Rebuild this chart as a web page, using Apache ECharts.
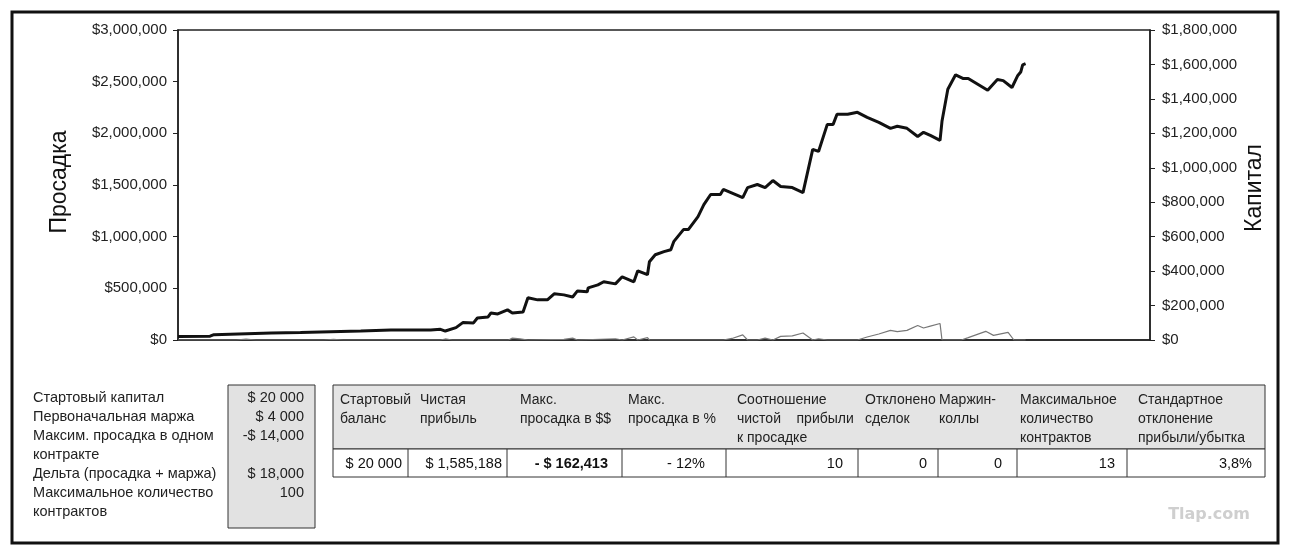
<!DOCTYPE html>
<html>
<head>
<meta charset="utf-8">
<script src="https://cdn.jsdelivr.net/npm/echarts@6/dist/echarts.min.js"></script>
<style>
html, body { margin: 0; padding: 0; background: #fff; }
#main { width: 1290px; height: 560px; }
</style>
</head>
<body>
<div id="main"></div>
<script>
// капитал (правая ось), номер сделки / тыс. $
var capitalTrade = [0,33,37,96,126,157,188,219,260,270,275,286,293,304,308,319,322,329,339,344,355,360,370,380,387,397,406,411,421,422,432,438,450,457,469,473,483,485,491,500,507,510,520,525,535,541,548,558,561,581,586,596,604,612,620,632,643,653,659,668,674,678,689,699,709,721,733,740,750,761,767,774,784,786,792,800,808,813,833,843,849,858,864,867,869,872];
var capitalK = [20,22,31,41,43,48,52,58,58,62,52,72,101,99,128,134,157,151,175,157,163,245,233,233,268,262,250,285,280,303,320,338,326,367,338,402,379,454,495,513,524,571,641,641,716,786,845,845,874,827,885,903,885,926,891,885,856,1107,1095,1252,1252,1311,1311,1322,1293,1264,1229,1241,1229,1182,1206,1188,1159,1270,1456,1540,1518,1518,1450,1512,1506,1466,1536,1556,1598,1605];

// просадка (левая ось), тыс. $
var drawdownTrade = [0,60,70,80,150,160,170,270,275,282,340,344,352,360,397,406,411,450,457,469,473,483,485,561,570,581,586,596,604,612,620,632,643,653,659,668,699,709,721,733,740,750,761,767,774,784,786,806,813,831,839,854,860,872];
var drawdownK = [0,0,8,0,0,6,0,0,10,0,0,18,10,0,6,18,0,12,0,30,0,23,0,0,15,50,0,0,18,0,35,40,68,0,12,0,0,29,58,93,81,93,140,116,134,160,0,0,23,84,45,74,0,0];

var leftLabels = ['Стартовый капитал', 'Первоначальная маржа', 'Максим. просадка в одном', 'контракте', 'Дельта (просадка + маржа)', 'Максимальное количество', 'контрактов'];
var leftValues = ['$ 20 000', '$ 4 000', '-$ 14,000', '', '$ 18,000', '100', ''];

var headers = ['Стартовый\nбаланс', 'Чистая\nприбыль', 'Макс.\nпросадка в $$', 'Макс.\nпросадка в %', 'Соотношение\nчистой    прибыли\nк просадке', 'Отклонено\nсделок', 'Маржин-\nколлы', 'Максимальное\nколичество\nконтрактов', 'Стандартное\nотклонение\nприбыли/убытка'];
var rowValues = ['$ 20 000', '$ 1,585,188', '- $ 162,413', '- 12%', '10', '0', '0', '13', '3,8%'];

var FONT = "'Liberation Sans', Arial, sans-serif";
var headerX = [340, 420, 520, 628, 737, 865, 939, 1020, 1138];
var valueRight = [402, 502, 608, 705, 843, 927, 1002, 1115, 1252];
var cellEdges = [408, 507, 622, 726, 858, 938, 1017, 1127];

function money(v) {
	return '$' + v.toLocaleString('en-US');
}

function buildGraphics() {
	var g = [];
	// рамка всей картинки
	g.push({ type: 'rect', shape: { x: 12, y: 12, width: 1266, height: 531 }, style: { fill: null, stroke: '#111', lineWidth: 3 } });
	// названия осей
	g.push({ type: 'text', x: 60, y: 182, rotation: Math.PI / 2,
		style: { text: 'Просадка', font: "23px 'Liberation Sans', Arial", fill: '#111', align: 'center', verticalAlign: 'middle' } });
	g.push({ type: 'text', x: 1255, y: 188, rotation: Math.PI / 2,
		style: { text: 'Капитал', font: "23px 'Liberation Sans', Arial", fill: '#111', align: 'center', verticalAlign: 'middle' } });

	// левая таблица
	g.push({ type: 'rect', shape: { x: 228, y: 385, width: 87, height: 143 }, style: { fill: '#e2e2e2', stroke: '#333', lineWidth: 1 } });
	for (var i = 0; i < leftLabels.length; i++) {
		var y = 398 + i * 19;
		g.push({ type: 'text', x: 33, y: y, style: { text: leftLabels[i], font: '14.5px ' + FONT, fill: '#222', verticalAlign: 'middle' } });
		if (leftValues[i]) {
			g.push({ type: 'text', x: 304, y: y, style: { text: leftValues[i], font: '14.5px ' + FONT, fill: '#222', align: 'right', verticalAlign: 'middle' } });
		}
	}

	// правая таблица
	g.push({ type: 'rect', shape: { x: 333, y: 385, width: 932, height: 64 }, style: { fill: '#e4e4e4', stroke: '#333', lineWidth: 1 } });
	g.push({ type: 'rect', shape: { x: 333, y: 449, width: 932, height: 28 }, style: { fill: '#fff', stroke: '#333', lineWidth: 1 } });
	for (var k = 0; k < cellEdges.length; k++) {
		g.push({ type: 'line', shape: { x1: cellEdges[k], y1: 449, x2: cellEdges[k], y2: 477 }, style: { stroke: '#333', lineWidth: 1 } });
	}
	for (var j = 0; j < headers.length; j++) {
		g.push({ type: 'text', x: headerX[j], y: 391, style: { text: headers[j], font: '14px ' + FONT, fill: '#222', lineHeight: 19 } });
		g.push({ type: 'text', x: valueRight[j], y: 464, style: { text: rowValues[j], font: (j === 2 ? 'bold ' : '') + '14.5px ' + FONT, fill: '#111', align: 'right', verticalAlign: 'middle' } });
	}

	g.push({ type: 'text', x: 1250, y: 515, style: { text: 'Tlap.com', font: "bold 16px 'DejaVu Sans', sans-serif", fill: '#cfcfcf', align: 'right', verticalAlign: 'middle' } });
	return g;
}

function genOption() {
	var capital = capitalTrade.map(function (t, i) { return [t, capitalK[i] * 1000]; });
	var drawdown = drawdownTrade.map(function (t, i) { return [t, drawdownK[i] * 1000]; });
	return {
		backgroundColor: '#fff',
		animation: false,
		grid: { left: 178, right: 140, top: 30, bottom: 220, show: true, borderColor: '#222', borderWidth: 1.5 },
		xAxis: {
			type: 'value', min: 0, max: 1000,
			axisLine: { show: true, lineStyle: { color: '#222', width: 1.5 } },
			axisTick: { show: false }, axisLabel: { show: false }, splitLine: { show: false }
		},
		yAxis: [{
			type: 'value', min: 0, max: 3000000, interval: 500000, position: 'left',
			axisLine: { show: true, lineStyle: { color: '#222', width: 1.5 } },
			axisTick: { show: true, length: 5, lineStyle: { color: '#222' } },
			axisLabel: { formatter: money, fontSize: 15, fontFamily: FONT, color: '#222', margin: 11 },
			splitLine: { show: false }
		}, {
			type: 'value', min: 0, max: 1800000, interval: 200000, position: 'right',
			axisLine: { show: true, lineStyle: { color: '#222', width: 1.5 } },
			axisTick: { show: true, length: 5, lineStyle: { color: '#222' } },
			axisLabel: { formatter: money, fontSize: 15, fontFamily: FONT, color: '#222', margin: 12 },
			splitLine: { show: false }
		}],
		series: [{
			name: 'Просадка', type: 'line', yAxisIndex: 0, data: drawdown,
			showSymbol: false, lineStyle: { color: '#777', width: 1.2 }, z: 2
		}, {
			name: 'Капитал', type: 'line', yAxisIndex: 1, data: capital,
			showSymbol: false, lineStyle: { color: '#111', width: 3 }, z: 3
		}],
		graphic: buildGraphics()
	};
}

var chart = echarts.init(document.getElementById('main'));
chart.setOption(genOption());
</script>
</body>
</html>
